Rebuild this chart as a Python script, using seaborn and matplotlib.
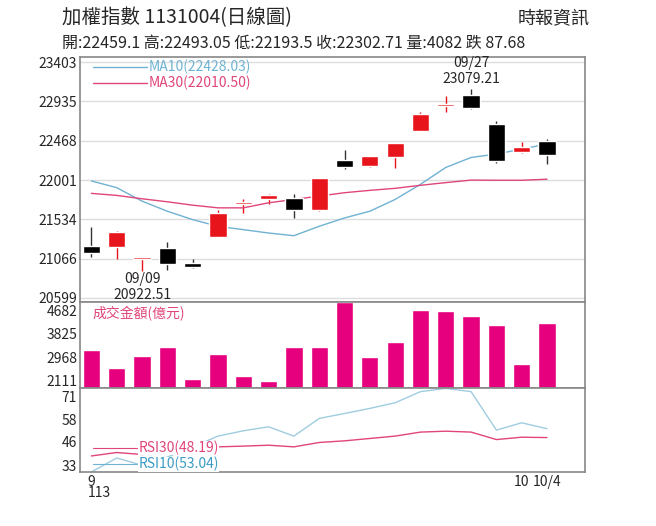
import numpy as np
import pandas as pd
import matplotlib
matplotlib.use("Agg")
import matplotlib.pyplot as plt
import seaborn as sns

# 資料 (由圖中估計)
opens = [21211, 21199, 21063, 21191, 21019, 21327, 21718, 21778, 21782, 21642,
         22241, 22165, 22273, 22589, 22876, 23016, 22665, 22337, 22459.1]
closes = [21131, 21383, 21079, 21000, 20964, 21610, 21734, 21822, 21642, 22022,
          22153, 22281, 22437, 22788, 22896, 22856, 22221, 22389, 22302.71]
highs = [21443, 21391, 21091, 21263, 21063, 21650, 21770, 21830, 21830, 22030,
         22357, 22289, 22445, 22808, 22996, 23079.21, 22708, 22449, 22493.05]
lows = [21091, 21063, 20922.51, 20935, 20952, 21319, 21610, 21710, 21550, 21630,
        22129, 22157, 22149, 22581, 22804, 22844, 22209, 22325, 22193.5]
ma10 = [21990, 21910, 21750, 21630, 21530, 21451, 21411, 21371, 21339, 21451,
        21550, 21630, 21770, 21950, 22150, 22269, 22309, 22369, 22428.03]
ma30 = [21842, 21818, 21778, 21742, 21702, 21670, 21670, 21730, 21770, 21810,
        21850, 21878, 21902, 21938, 21970, 22000, 21998, 21998, 22010.50]
volume = [3240, 2584, 3016, 3329, 2174, 3079, 2271, 2122, 3329, 3329,
          4980, 2980, 3540, 4671, 4657, 4484, 4149, 2733, 4200]
rsi10 = [29.3, 37.0, 33.0, 37.5, 43.0, 49.0, 51.9, 54.1, 49.0, 58.7,
         61.4, 64.2, 67.3, 73.4, 75.2, 73.4, 52.3, 56.3, 53.04]
rsi30 = [38.1, 40.0, 38.9, 40.3, 41.2, 43.1, 43.5, 44.0, 43.1, 45.5,
         46.4, 47.7, 49.0, 51.2, 51.7, 51.2, 47.1, 48.4, 48.19]
price_ticks = [20599, 21066, 21534, 22001, 22468, 22935, 23403]
vol_ticks = [2111, 2968, 3825, 4682]
rsi_ticks = [33, 46, 58, 71]

sns.set_style("white")
plt.rcParams['font.family'] = ['Noto Sans CJK TC', 'DejaVu Sans']

RED = "#e8141c"
MA10C = "#6fb2d2"
MA30C = "#e0457b"
VOLC = "#e6007e"
GRID = "#dddddd"
FRAME = "#888888"

n = len(opens)
x = np.arange(n)
df = pd.DataFrame({"x": x, "ma10": ma10, "ma30": ma30, "vol": volume,
                   "rsi10": rsi10, "rsi30": rsi30})

fig = plt.figure(figsize=(6.56, 5.26), dpi=100)
L, W = 80 / 656, 505 / 656
ax1 = fig.add_axes([L, 224 / 526, W, 245 / 526])
ax2 = fig.add_axes([L, 138 / 526, W, 86 / 526])
ax3 = fig.add_axes([L, 54 / 526, W, 84 / 526])

for ax in (ax1, ax2, ax3):
    ax.set_xlim(-0.45, 19.5)
    for s in ax.spines.values():
        s.set_color(FRAME)
        s.set_linewidth(1.2)
    ax.tick_params(axis='y', length=0, labelsize=10, pad=2)
    ax.tick_params(axis='x', length=0)
    ax.set_xticks([])

# K線
for i in range(n):
    up = closes[i] >= opens[i]
    col = RED if up else "black"
    ax1.vlines(i, lows[i], highs[i], color=col if up else "#333333", linewidth=1, zorder=2)
    lo, hi = min(opens[i], closes[i]), max(opens[i], closes[i])
    ax1.bar(i, max(hi - lo, 25), bottom=lo, width=0.68, color=col, zorder=3)
sns.lineplot(data=df, x="x", y="ma10", ax=ax1, color=MA10C, linewidth=1)
sns.lineplot(data=df, x="x", y="ma30", ax=ax1, color=MA30C, linewidth=1)
ax1.set_ylim(20551, 23463)
ax1.set_yticks(price_ticks)
ax1.grid(axis='y', color=GRID, linewidth=1)
ax1.set_xlabel("")
ax1.set_ylabel("")
ax1.set_xticks([])
ax1.plot([0.05, 2.2], [23350, 23350], color=MA10C, lw=1)
ax1.text(2.25, 23350, "MA10(22428.03)", color=MA10C, fontsize=10, va='center')
ax1.plot([0.05, 2.2], [23150, 23150], color=MA30C, lw=1)
ax1.text(2.25, 23150, "MA30(22010.50)", color=MA30C, fontsize=10, va='center')
ax1.text(2, 20780, "09/09", ha='center', fontsize=10)
ax1.text(2, 20590, "20922.51", ha='center', fontsize=10, clip_on=False, zorder=5)
ax1.text(15, 23340, "09/27", ha='center', fontsize=10)
ax1.text(15, 23150, "23079.21", ha='center', fontsize=10)

# 成交金額
ax2.bar(df["x"], df["vol"], width=0.68, color=VOLC, zorder=2)
ax2.set_ylim(1850, 4980)
ax2.set_yticks(vol_ticks)
ax2.set_xticks([])
ax2.text(0.05, 4560, "成交金額(億元)", color=MA30C, fontsize=10, va='center')

# RSI
sns.lineplot(data=df, x="x", y="rsi10", ax=ax3, color="#9fcde0", linewidth=1)
sns.lineplot(data=df, x="x", y="rsi30", ax=ax3, color=MA30C, linewidth=1)
ax3.set_ylim(29.3, 75.4)
ax3.set_yticks(rsi_ticks)
ax3.set_xlabel("")
ax3.set_ylabel("")
ax3.set_xticks(x)
ax3.set_xticklabels([""] * n)
ax3.tick_params(axis='x', length=3, color=FRAME, direction='in')
ax3.plot([0.05, 1.8], [42.5, 42.5], color=MA30C, lw=0.8)
ax3.text(1.85, 42.5, "RSI30(48.19)", color=MA30C, fontsize=10, va='center',
         bbox=dict(facecolor='white', edgecolor='none', pad=0))
ax3.plot([0.05, 1.8], [33.5, 33.5], color=MA10C, lw=0.8)
ax3.text(1.85, 33.5, "RSI10(53.04)", color="#3a9cc4", fontsize=10, va='center',
         bbox=dict(facecolor='white', edgecolor='none', pad=0))
for xi, lab in [(0, "9"), (17, "10"), (18, "10/4")]:
    ax3.text(xi, 27.5, lab, ha='center', va='top', fontsize=10, clip_on=False)
ax3.text(0.3, 21.5, "113", ha='center', va='top', fontsize=10, clip_on=False)

fig.text(62 / 656, 1 - 18 / 526, "加權指數 1131004(日線圖)", fontsize=14, va='center')
fig.text(590 / 656, 1 - 18 / 526, "時報資訊", fontsize=13, va='center', ha='right')
fig.text(62 / 656, 1 - 43 / 526,
         "開:22459.1 高:22493.05 低:22193.5 收:22302.71 量:4082 跌 87.68",
         fontsize=11.5, va='center')

fig.savefig("out.png", dpi=100)
